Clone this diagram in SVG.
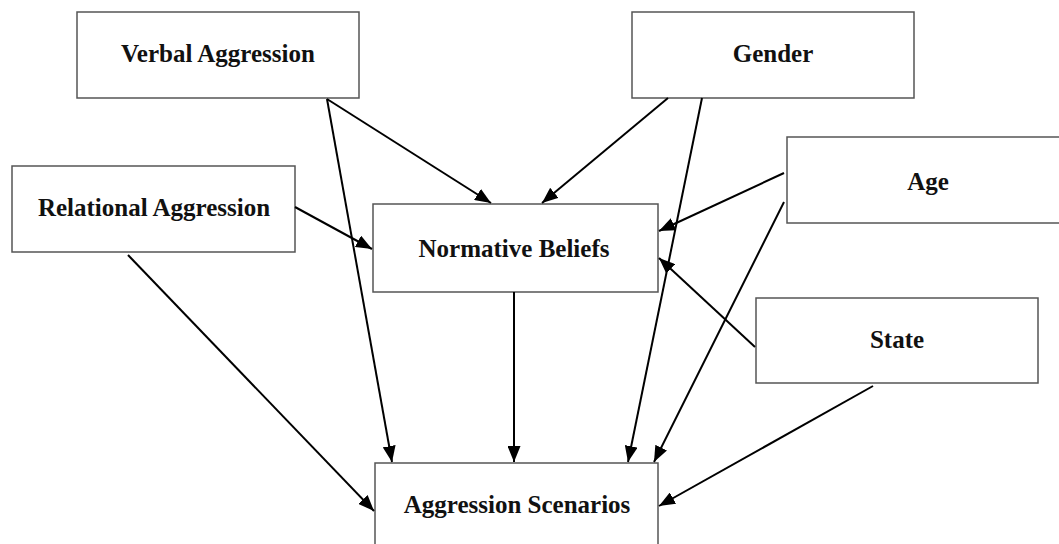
<svg xmlns="http://www.w3.org/2000/svg" width="1059" height="544" viewBox="0 0 1059 544">
<defs>
<style>
.box{fill:#fff;stroke:#555;stroke-width:1.5}
.lbl{font-family:"Liberation Serif","Times New Roman",serif;font-weight:bold;font-size:25px;fill:#111;text-anchor:middle}
.edge{stroke:#000;stroke-width:2;fill:none;marker-end:url(#ah)}
</style>
<marker id="ah" markerUnits="userSpaceOnUse" markerWidth="17" markerHeight="13" refX="16" refY="6.5" orient="auto">
<path d="M0,0 L16,6.5 L0,13 Z" fill="#000"/>
</marker>
</defs>
<rect width="1059" height="544" fill="#fff"/>
<g id="verbal"><rect class="box" x="77" y="12" width="282" height="86"/><text class="lbl" x="218" y="62">Verbal Aggression</text></g>
<g id="gender"><rect class="box" x="632" y="12" width="282" height="86"/><text class="lbl" x="773" y="62">Gender</text></g>
<g id="relational"><rect class="box" x="12" y="166" width="283" height="86"/><text class="lbl" x="154" y="216">Relational Aggression</text></g>
<g id="normative"><rect class="box" x="373" y="204" width="285" height="88"/><text class="lbl" x="514" y="257">Normative Beliefs</text></g>
<g id="age"><rect class="box" x="787" y="137" width="280" height="86"/><text class="lbl" x="928" y="190">Age</text></g>
<g id="state"><rect class="box" x="756" y="298" width="282" height="85"/><text class="lbl" x="897" y="348">State</text></g>
<g id="scenarios"><rect class="box" x="375" y="463" width="283" height="90"/><text class="lbl" x="517" y="513">Aggression Scenarios</text></g>
<g id="connectors">
<line class="edge" x1="327" y1="99" x2="491" y2="203"/>
<line class="edge" x1="327" y1="99" x2="392" y2="462"/>
<line class="edge" x1="668" y1="98" x2="542" y2="203"/>
<line class="edge" x1="702" y1="98" x2="628" y2="462"/>
<line class="edge" x1="295" y1="207" x2="372" y2="249"/>
<line class="edge" x1="128" y1="255" x2="374" y2="511"/>
<line class="edge" x1="514" y1="292" x2="514" y2="462"/>
<line class="edge" x1="784" y1="173" x2="659" y2="231"/>
<line class="edge" x1="784" y1="202" x2="654" y2="462"/>
<line class="edge" x1="755" y1="347" x2="659" y2="258"/>
<line class="edge" x1="873" y1="386" x2="659" y2="506"/>
</g>
</svg>
